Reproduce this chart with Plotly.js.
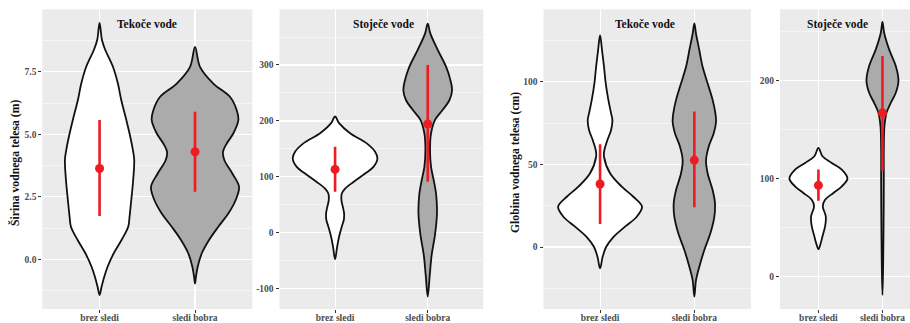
<!DOCTYPE html>
<html>
<head>
<meta charset="utf-8">
<script src="https://cdn.plot.ly/plotly-3.0.1.min.js"></script>
<style>html,body{margin:0;padding:0;background:#fff;}#chart{width:910px;height:323px;}</style>
</head>
<body>
<div id="chart"></div>
<script>
// ---------- DATA ----------
const categories = ['brez sledi', 'sledi bobra'];
const panelTitles = ['Tekoče vode', 'Stoječe vode', 'Tekoče vode', 'Stoječe vode'];
const yTitles = ['Širina vodnega telesa (m)', 'Globina vodnega telesa (cm)'];

// Panel 1: Širina, Tekoče vode  (violin profile: y level, half-width)
const p1BrezY = [9.46, 8.77, 8.37, 7.7, 7.03, 6.37, 5.7, 5.03, 4.37, 3.97, 3.03, 2.37, 1.7, 1.3, 0.77, 0.23, -0.3, -0.7, -1.1, -1.43];
const p1BrezW = [0, 0.025, 0.06, 0.14, 0.192, 0.227, 0.272, 0.314, 0.349, 0.363, 0.349, 0.332, 0.314, 0.300, 0.23, 0.147, 0.084, 0.049, 0.021, 0];
const p1BobY  = [8.5, 7.7, 7.03, 6.5, 5.97, 5.57, 5.03, 4.63, 4.3, 3.97, 3.43, 2.9, 2.37, 1.83, 1.3, 0.77, 0.23, -0.3, -0.7, -0.97];
const p1BobW  = [0, 0.052, 0.192, 0.366, 0.436, 0.454, 0.401, 0.332, 0.293, 0.307, 0.391, 0.461, 0.426, 0.349, 0.244, 0.147, 0.07, 0.028, 0.01, 0];
const p1Mean = [3.63, 4.3];
const p1Lo   = [1.73, 2.7];
const p1Hi   = [5.57, 5.9];

// Panel 2: Širina, Stoječe vode
const p2BrezY = [208, 196, 178, 160, 145, 133, 118, 106, 91, 79, 70, 59, 47, 35, 23, 11, -7, -25, -47];
const p2BrezW = [0, 0.043, 0.162, 0.342, 0.432, 0.457, 0.414, 0.324, 0.198, 0.108, 0.072, 0.068, 0.083, 0.097, 0.094, 0.072, 0.043, 0.022, 0];
const p2BobY  = [374, 356, 327, 297, 273, 255, 237, 220, 202, 178, 148, 118, 94, 70, 35, -3, -39, -75, -114];
const p2BobW  = [0, 0.029, 0.108, 0.198, 0.245, 0.263, 0.234, 0.162, 0.079, 0.036, 0.025, 0.036, 0.065, 0.09, 0.1, 0.079, 0.043, 0.022, 0];
const p2Mean = [113.4, 194.5];
const p2Lo   = [73.5, 91.4];
const p2Hi   = [154, 300];

// Panel 3: Globina, Tekoče vode
const p3BrezY = [128.2, 119, 109, 99, 89, 80.8, 76.8, 70.8, 64.7, 58.7, 54.6, 44.6, 36.5, 30.4, 24.4, 18.3, 12.3, 6, 0, -5.8, -12.9];
const p3BrezW = [0, 0.021, 0.042, 0.06, 0.088, 0.117, 0.131, 0.117, 0.078, 0.046, 0.042, 0.106, 0.23, 0.353, 0.445, 0.389, 0.265, 0.141, 0.064, 0.028, 0];
const p3BobY  = [135.3, 129, 119, 109, 99, 89, 81, 75.8, 68.7, 60.7, 52.6, 44.6, 34.5, 26.4, 18.3, 8.3, -1.8, -11.9, -20, -30];
const p3BobW  = [0, 0.018, 0.053, 0.088, 0.141, 0.194, 0.223, 0.23, 0.205, 0.152, 0.124, 0.141, 0.194, 0.219, 0.212, 0.17, 0.106, 0.053, 0.018, 0];
const p3Mean = [38.1, 52.6];
const p3Lo   = [13.9, 24];
const p3Hi   = [62.1, 81.9];

// Panel 4: Globina, Stoječe vode
const p4BrezY = [131.3, 122.8, 116, 109.2, 100, 92.2, 85.4, 78.6, 71.8, 61.6, 51.4, 41.2, 34.4, 28.2];
const p4BrezW = [0, 0.063, 0.208, 0.365, 0.453, 0.365, 0.234, 0.104, 0.068, 0.115, 0.104, 0.063, 0.036, 0];
const p4BobY  = [259.5, 248.6, 231.6, 214.6, 200, 187.4, 177.2, 167, 153.4, 129.6, 95.6, 44.6, 10.5, -18.4];
const p4BobW  = [0, 0.026, 0.104, 0.208, 0.25, 0.208, 0.13, 0.063, 0.031, 0.021, 0.021, 0.016, 0.01, 0];
const p4Mean = [93.2, 167];
const p4Lo   = [77.6, 107.5];
const p4Hi   = [109.2, 224.8];

// Tick values / labels
const p1Ticks = [0, 2.5, 5, 7.5];      const p1TickText = ['0.0', '2.5', '5.0', '7.5'];
const p2Ticks = [-100, 0, 100, 200, 300]; const p2TickText = ['-100', '0', '100', '200', '300'];
const p3Ticks = [0, 50, 100];           const p3TickText = ['0', '50', '100'];
const p4Ticks = [0, 100, 200];          const p4TickText = ['0', '100', '200'];

// ---------- BUILD ----------
const W = 910, H = 323;
const fills = ['#ffffff', '#ababab'];
const red = '#ee1b22';
const serif = 'Liberation Serif';

function violin(yArr, wArr, idx, xa, ya, fill) {
  const xs = [], ys = [];
  for (let i = 0; i < yArr.length; i++) { xs.push(idx + wArr[i]); ys.push(yArr[i]); }
  for (let i = yArr.length - 2; i >= 0; i--) { xs.push(idx - wArr[i]); ys.push(yArr[i]); }
  return {
    type: 'scatter', mode: 'lines', x: xs, y: ys, xaxis: xa, yaxis: ya,
    fill: 'toself', fillcolor: fill,
    line: {color: '#111111', width: 1.8, shape: 'spline', smoothing: 1},
    hoverinfo: 'skip', showlegend: false
  };
}
function summary(mean, lo, hi, xa, ya) {
  return {
    type: 'scatter', mode: 'markers', x: [0, 1], y: mean, xaxis: xa, yaxis: ya,
    marker: {color: red, size: 9},
    error_y: {type: 'data', symmetric: false,
      array: hi.map((v, i) => v - mean[i]),
      arrayminus: lo.map((v, i) => mean[i] - v),
      color: red, thickness: 2.6, width: 0},
    showlegend: false, hoverinfo: 'skip'
  };
}

const panels = [
  {bY: p1BrezY, bW: p1BrezW, sY: p1BobY, sW: p1BobW, m: p1Mean, lo: p1Lo, hi: p1Hi, dom: [42.3, 252.3], xr: [-0.6, 1.6], yr: [-1.99, 10.0], tv: p1Ticks, tt: p1TickText, minor: 1.25},
  {bY: p2BrezY, bW: p2BrezW, sY: p2BobY, sW: p2BobW, m: p2Mean, lo: p2Lo, hi: p2Hi, dom: [279.5, 483.3], xr: [-0.6, 1.6], yr: [-136, 399.5], tv: p2Ticks, tt: p2TickText, minor: 50},
  {bY: p3BrezY, bW: p3BrezW, sY: p3BobY, sW: p3BobW, m: p3Mean, lo: p3Lo, hi: p3Hi, dom: [543.5, 750.9], xr: [-0.6, 1.6], yr: [-37.5, 143.8], tv: p3Ticks, tt: p3TickText, minor: 25},
  {bY: p4BrezY, bW: p4BrezW, sY: p4BobY, sW: p4BobW, m: p4Mean, lo: p4Lo, hi: p4Hi, dom: [780, 910], xr: [-0.6, 1.43], yr: [-32.7, 272.4], tv: p4Ticks, tt: p4TickText, minor: 50}
];

const traces = [];
const layout = {
  width: W, height: H, margin: {l: 0, r: 0, t: 0, b: 0},
  paper_bgcolor: '#ffffff', plot_bgcolor: '#ebebeb',
  showlegend: false, annotations: []
};
const yDom = [(H - 309) / H, (H - 9.3) / H];
const tickFont = {family: serif, size: 9.5, color: '#4d4d4d', weight: 'bold'};

panels.forEach((p, k) => {
  const n = k + 1;
  const xa = n === 1 ? 'x' : 'x' + n, ya = n === 1 ? 'y' : 'y' + n;
  traces.push(violin(p.bY, p.bW, 0, xa, ya, fills[0]));
  traces.push(violin(p.sY, p.sW, 1, xa, ya, fills[1]));
  traces.push(summary(p.m, p.lo, p.hi, xa, ya));
  layout['xaxis' + (n === 1 ? '' : n)] = {
    domain: [p.dom[0] / W, p.dom[1] / W], range: p.xr, anchor: ya,
    tickmode: 'array', tickvals: [0, 1], ticktext: categories,
    showgrid: true, gridcolor: '#ffffff', gridwidth: 1.1, zeroline: false,
    ticks: 'outside', ticklen: 3, tickcolor: '#333333', tickwidth: 1,
    ticklabelstandoff: -3,
    tickfont: tickFont, showline: false, fixedrange: true
  };
  layout['yaxis' + (n === 1 ? '' : n)] = {
    domain: yDom, range: p.yr, anchor: xa,
    tickmode: 'array', tickvals: p.tv, ticktext: p.tt,
    showgrid: true, gridcolor: '#ffffff', gridwidth: 1.1, zeroline: false,
    ticks: 'outside', ticklen: 3, tickcolor: '#333333', tickwidth: 1,
    tickfont: tickFont, showline: false, fixedrange: true,
    minor: {dtick: p.minor, tick0: 0, showgrid: true, gridcolor: '#ffffff', gridwidth: 0.5, ticks: ''}
  };
});

const titleX = [147, 383, 645, 837.5];
panelTitles.forEach((t, i) => {
  layout.annotations.push({
    text: t, xref: 'paper', yref: 'paper', x: titleX[i] / W, y: (H - 24.5) / H,
    xanchor: 'center', yanchor: 'middle', showarrow: false,
    font: {family: serif, size: 11.5, color: '#111111', weight: 'bold'}
  });
});
const yTitleX = [15, 515];
yTitles.forEach((t, i) => {
  layout.annotations.push({
    text: t, xref: 'paper', yref: 'paper', x: yTitleX[i] / W, y: (H - 163) / H,
    xanchor: 'center', yanchor: 'middle', showarrow: false, textangle: -90,
    font: {family: serif, size: 11.7, color: '#111111', weight: 'bold'}
  });
});

Plotly.newPlot('chart', traces, layout, {displayModeBar: false, staticPlot: true});
</script>
</body>
</html>
